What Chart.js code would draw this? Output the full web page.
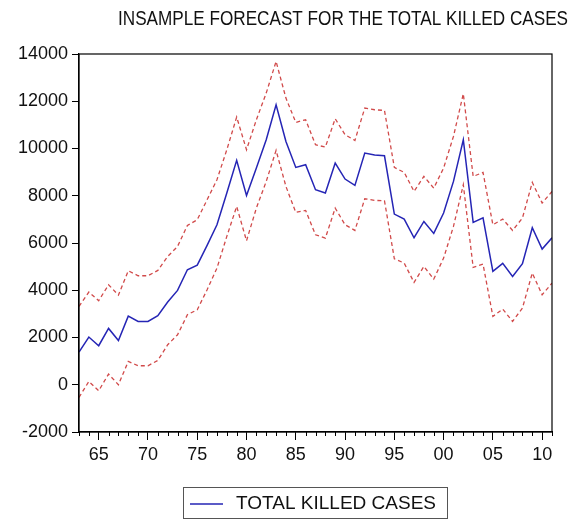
<!DOCTYPE html>
<html>
<head>
<meta charset="utf-8">
<script src="https://cdn.jsdelivr.net/npm/chart.js@4"></script>
<style>
html,body{margin:0;padding:0;background:#fff;}
#wrap{width:580px;height:520px;position:relative;}
</style>
</head>
<body>
<div id="wrap"><canvas id="c" width="580" height="520"></canvas></div>
<script>
const years = [1963,1964,1965,1966,1967,1968,1969,1970,1971,1972,1973,1974,1975,1976,1977,1978,1979,1980,
  1981,1982,1983,1984,1985,1986,1987,1988,1989,1990,1991,1992,1993,1994,1995,1996,1997,1998,1999,2000,
  2001,2002,2003,2004,2005,2006,2007,2008,2009,2010,2011];
const forecast = [1384,2019,1651,2384,1876,2906,2681,2681,2920,3499,3993,4868,5066,5897,6772,8113,9496,8014,
  9172,10370,11852,10300,9199,9312,8254,8113,9383,8706,8437,9806,9721,9693,7224,7013,6222,6913,6405,7266,
  8607,10370,6871,7069,4797,5136,4586,5122,6646,5742,6222];
const upper = [3316,3923,3556,4233,3795,4825,4614,4614,4839,5431,5854,6744,6984,7831,8677,9947,11330,9947,
  11217,12346,13686,12134,11104,11217,10159,10060,11259,10582,10342,11711,11640,11612,9199,8988,8184,8818,8324,9171,
  10511,12317,8818,8988,6772,7013,6532,7056,8564,7690,8184];
const lower = [-536,141,-254,451,0,988,804,804,1030,1693,2116,2963,3175,4021,4938,6279,7548,6095,
  7478,8607,9919,8395,7295,7379,6349,6208,7478,6772,6532,7873,7802,7788,5333,5150,4331,5008,4472,5361,
  6702,8466,4966,5108,2892,3203,2681,3246,4727,3809,4303];
const xMajorTicks = [1965,1970,1975,1980,1985,1990,1995,2000,2005,2010];
const yTicks = [-2000,0,2000,4000,6000,8000,10000,12000,14000];
const titleText = 'INSAMPLE FORECAST FOR THE TOTAL KILLED CASES';
const legendText = 'TOTAL KILLED CASES';

const toPts = arr => arr.map((v,i)=>({x:years[i], y:v}));
const FONT = '"Liberation Sans", Arial, sans-serif';

function fitText(ctx, text, x, y, width, size){
  ctx.save();
  ctx.font = size + 'px ' + FONT;
  const w = ctx.measureText(text).width;
  ctx.translate(x, y);
  ctx.scale(width / w, 1);
  ctx.fillText(text, 0, 0);
  ctx.restore();
}

const decor = {
  id:'decor',
  afterDraw(chart){
    const ctx = chart.ctx, a = chart.chartArea, xs = chart.scales.x;
    ctx.save();
    // frame
    ctx.strokeStyle = '#000'; ctx.lineWidth = 1.2;
    ctx.strokeRect(a.left, a.top, a.right - a.left, a.bottom - a.top);
    // minor ticks
    ctx.lineWidth = 1;
    ctx.beginPath();
    for (const yr of years){
      if (yr % 5 === 0) continue;
      const px = Math.round(xs.getPixelForValue(yr)) + 0.5;
      ctx.moveTo(px, a.bottom); ctx.lineTo(px, a.bottom + 4);
    }
    ctx.stroke();
    // title
    ctx.fillStyle = '#111'; ctx.textBaseline = 'alphabetic';
    fitText(ctx, titleText, 118, 25, 450, 20);
    // legend
    ctx.strokeStyle = '#555'; ctx.lineWidth = 1;
    ctx.strokeRect(183.5, 487.5, 264, 31);
    ctx.strokeStyle = '#2525b5'; ctx.lineWidth = 1.5;
    ctx.beginPath(); ctx.moveTo(190, 504); ctx.lineTo(223, 504); ctx.stroke();
    ctx.fillStyle = '#111'; ctx.textBaseline = 'middle';
    fitText(ctx, legendText, 236, 504, 200, 18);
    ctx.restore();
  }
};

new Chart(document.getElementById('c'), {
  type:'line',
  data:{
    datasets:[
      {label:'upper', data:toPts(upper), borderColor:'#d14a4a', borderWidth:1.3, borderDash:[4,3], pointRadius:0, tension:0, fill:false},
      {label:'lower', data:toPts(lower), borderColor:'#d14a4a', borderWidth:1.3, borderDash:[4,3], pointRadius:0, tension:0, fill:false},
      {label:legendText, data:toPts(forecast), borderColor:'#2525b5', borderWidth:1.5, pointRadius:0, tension:0, fill:false}
    ]
  },
  options:{
    responsive:false, animation:false, devicePixelRatio:1,
    layout:{padding:{top:54, right:28, bottom:58, left:0}},
    plugins:{legend:{display:false}, title:{display:false}, tooltip:{enabled:false}},
    scales:{
      x:{
        type:'linear', min:1963, max:2011,
        afterBuildTicks: s => { s.ticks = xMajorTicks.map(v=>({value:v})); },
        afterFit: s => { s.height = 30; },
        grid:{drawOnChartArea:false, drawTicks:true, tickLength:8, tickColor:'#000'},
        border:{display:true, color:'#000', width:1.2},
        ticks:{autoSkip:false, maxRotation:0, padding:4, color:'#111',
          font:{family:FONT, size:18},
          callback: v => String(v % 100).padStart(2,'0')}
      },
      y:{
        min:-2000, max:14000,
        afterBuildTicks: s => { s.ticks = yTicks.map(v=>({value:v})); },
        afterFit: s => { s.width = 79; },
        grid:{drawOnChartArea:false, drawTicks:true, tickLength:7, tickColor:'#000'},
        border:{display:true, color:'#000', width:1.2},
        ticks:{padding:4, color:'#111', font:{family:FONT, size:18}, callback: v => String(v)}
      }
    }
  },
  plugins:[decor]
});
</script>
</body>
</html>
